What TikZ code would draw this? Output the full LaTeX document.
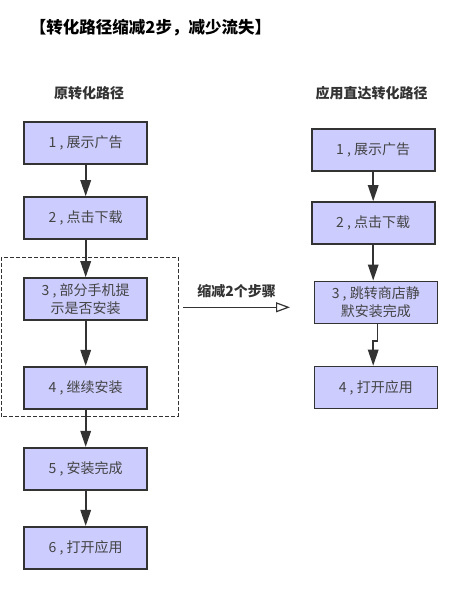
\documentclass[tikz,border=0pt]{standalone}
\usepackage{fontspec}
\setmainfont{Noto Sans CJK SC}
\usetikzlibrary{arrows.meta}
\definecolor{line}{RGB}{51,51,51}
\definecolor{boxfill}{RGB}{204,204,255}
\definecolor{txt}{RGB}{68,68,68}
\begin{document}
\begin{tikzpicture}[x=1pt,y=-1pt,
  box/.style={draw=line,fill=boxfill,line width=1.6pt,minimum width=123pt,minimum height=42pt,
    inner sep=0pt,align=center,text=txt,font=\fontsize{14}{18.3}\selectfont},
  head/.style={font=\fontsize{14}{16}\selectfont\bfseries,text=line,inner sep=0pt},
  arr/.style={draw=line,line width=1.6pt,-{Triangle[length=16pt,width=10.5pt]}},
  open/.style={draw=line,line width=1.2pt,-{Triangle[open,length=14pt,width=10pt,fill=white]}}]
  \useasboundingbox (0,0) rectangle (453,597);
  \node[inner sep=0pt,font=\fontsize{16.5}{18}\selectfont\bfseries] (title) at (150.5,28) {【转化路径缩减2步，减少流失】};
  \node[head] (hl) at (89,93) {原转化路径};
  \node[head] (hr) at (371.7,93) {应用直达转化路径};
  \draw[line,dashed,dash pattern=on 4pt off 2pt,line width=0.8pt] (1,257) rectangle (178,416.7);
  \node[box] (l1) at (85.7,143) {1 , 展示广告};
  \node[box] (l2) at (85.7,218) {2 , 点击下载};
  \node[box] (l3) at (85.7,299) {3 , 部分手机提\\示是否安装};
  \node[box] (l4) at (85.7,387.7) {4 , 继续安装};
  \node[box] (l5) at (85.7,468.7) {5 , 安装完成};
  \node[box] (l6) at (85.7,547.7) {6 , 打开应用};
  \node[box] (r1) at (373.2,149.7) {1 , 展示广告};
  \node[box] (r2) at (373.2,223) {2 , 点击下载};
  \node[box] (r3) at (375.8,302.3) {3 , 跳转商店静\\默安装完成};
  \node[box] (r4) at (375.8,387.5) {4 , 打开应用};
  \coordinate (s) at (183,307.3);
  \coordinate (e) at (290,307.3);
  \node[head] (cut) at (236.7,290.7) {缩减2个步骤};
  \draw[arr] (l1) -- (l2);
  \draw[arr] (l2) -- (l3);
  \draw[arr] (l3) -- (l4);
  \draw[arr] (l4) -- (l5);
  \draw[arr] (l5) -- (l6);
  \draw[arr] (r1) -- (r2);
  \draw[arr] (r2.south) -- (r2.south |- r3.north);
  \draw[arr] ([xshift=1.5pt]r3.south) |- ([yshift=-17pt]r3.south -| r2) -- (r2 |- r4.north);
  \draw[open] (s) -- (e);
\end{tikzpicture}
\end{document}
